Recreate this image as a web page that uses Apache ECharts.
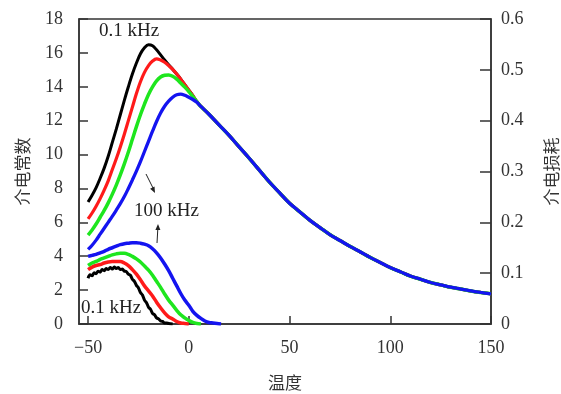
<!DOCTYPE html>
<html>
<head>
<meta charset="utf-8">
<script src="https://cdn.jsdelivr.net/npm/echarts@6/dist/echarts.min.js"></script>
<style>html,body{margin:0;padding:0;background:#fff}#c{width:561px;height:394px}</style>
</head>
<body>
<div id="c"></div>
<script>
// Temperature tick labels
const xTicks = [-50, 0, 50, 100, 150];

// Dielectric constant (left axis), [temperature, value]
const epsBlack = [[-50,7.2],[-48,7.6],[-46,8.05],[-44,8.6],[-42,9.2],[-40,9.9],[-38,10.7],[-36,11.5],[-34,12.35],[-32,13.2],[-30,14.0],[-28,14.75],[-26,15.4],[-24,15.95],[-22,16.3],[-20,16.48],[-18,16.42],[-16,16.18],[-14,15.88],[-12,15.58],[-10,15.3],[-8,15.03],[-6,14.75],[-4,14.45],[-2,14.12],[0,13.8],[2,13.48],[4,13.12]];
const epsRed = [[-50,6.2],[-48,6.55],[-46,6.95],[-44,7.4],[-42,7.9],[-40,8.45],[-38,9.1],[-36,9.75],[-34,10.45],[-32,11.2],[-30,12.0],[-28,12.8],[-26,13.6],[-24,14.3],[-22,14.85],[-20,15.25],[-18,15.52],[-16,15.65],[-14,15.58],[-12,15.45],[-10,15.25],[-8,15.03],[-6,14.75],[-4,14.45],[-2,14.12],[0,13.8],[2,13.48],[4,13.12]];
const epsGreen = [[-50,5.25],[-48,5.55],[-46,5.9],[-44,6.3],[-42,6.7],[-40,7.15],[-38,7.65],[-36,8.2],[-34,8.8],[-32,9.45],[-30,10.15],[-28,10.9],[-26,11.65],[-24,12.35],[-22,12.98],[-20,13.55],[-18,14.0],[-16,14.35],[-14,14.58],[-12,14.68],[-10,14.7],[-8,14.62],[-6,14.45],[-4,14.22],[-2,13.98],[0,13.72],[2,13.42],[4,13.12]];
const epsBlue = [[-50,4.4],[-48,4.65],[-46,4.95],[-44,5.3],[-42,5.65],[-40,6.0],[-38,6.35],[-36,6.72],[-34,7.1],[-32,7.52],[-30,8.0],[-28,8.5],[-26,9.02],[-24,9.58],[-22,10.18],[-20,10.78],[-18,11.38],[-16,11.95],[-14,12.45],[-12,12.85],[-10,13.15],[-8,13.38],[-6,13.53],[-4,13.57],[-2,13.5],[0,13.38],[2,13.25],[4,13.08]];
const epsTail = [[6,12.84],[10,12.38],[15,11.75],[20,11.13],[25,10.45],[30,9.78],[35,9.08],[40,8.38],[45,7.75],[50,7.13],[55,6.63],[60,6.13],[65,5.7],[70,5.28],[75,4.93],[80,4.58],[85,4.26],[90,3.93],[95,3.63],[100,3.33],[105,3.08],[110,2.83],[115,2.64],[120,2.45],[125,2.31],[130,2.17],[135,2.06],[140,1.95],[145,1.86],[150,1.78]];

// Dielectric loss (right axis), [temperature, value]
const lossBlack = [[-50,0.090],[-49,0.097],[-48,0.095],[-47,0.101],[-46,0.099],[-45,0.104],[-44,0.102],[-43,0.107],[-42,0.105],[-41,0.109],[-40,0.107],[-39,0.111],[-38,0.108],[-37,0.112],[-36,0.109],[-35,0.111],[-34,0.107],[-33,0.108],[-32,0.104],[-31,0.103],[-30,0.098],[-29,0.096],[-28,0.088],[-27,0.084],[-26,0.076],[-25,0.071],[-24,0.062],[-23,0.057],[-22,0.047],[-21,0.042],[-20,0.033],[-19,0.029],[-18,0.021],[-17,0.018],[-16,0.012],[-15,0.010],[-14,0.006],[-13,0.005],[-12,0.002],[-11,0.002],[-10,0.001],[-8,0]];
const lossRed = [[-50,0.107],[-48,0.112],[-46,0.115],[-44,0.117],[-42,0.120],[-40,0.122],[-38,0.123],[-36,0.123],[-34,0.123],[-32,0.120],[-30,0.115],[-28,0.107],[-26,0.098],[-24,0.087],[-22,0.075],[-20,0.065],[-18,0.055],[-16,0.043],[-14,0.032],[-12,0.022],[-10,0.014],[-8,0.010],[-6,0.005],[-4,0.002],[-2,0.001],[0,0]];
const lossGreen = [[-50,0.115],[-48,0.120],[-46,0.123],[-44,0.127],[-42,0.130],[-40,0.133],[-38,0.136],[-36,0.138],[-34,0.139],[-32,0.139],[-30,0.137],[-28,0.133],[-26,0.128],[-24,0.122],[-22,0.114],[-20,0.106],[-18,0.096],[-16,0.084],[-14,0.072],[-12,0.059],[-10,0.047],[-8,0.037],[-6,0.027],[-4,0.018],[-2,0.012],[0,0.007],[2,0.003],[4,0.001],[6,0]];
const lossBlue = [[-50,0.133],[-48,0.135],[-46,0.137],[-44,0.140],[-42,0.143],[-40,0.147],[-38,0.150],[-36,0.153],[-34,0.156],[-32,0.158],[-30,0.159],[-28,0.160],[-26,0.160],[-24,0.159],[-22,0.157],[-20,0.154],[-18,0.148],[-16,0.140],[-14,0.130],[-12,0.118],[-10,0.105],[-8,0.090],[-6,0.075],[-4,0.060],[-2,0.047],[0,0.037],[2,0.025],[4,0.017],[6,0.011],[8,0.006],[10,0.003],[12,0.002],[14,0.001],[16,0]];

const colors = {black:'#000000', red:'#ff1a1a', green:'#1ee61e', blue:'#1414f0'};
const FONT = '"Liberation Serif", "Times New Roman", serif';
const CJK = '"Noto Sans CJK SC", sans-serif';

const chart = echarts.init(document.getElementById('c'), null, {renderer:'canvas'});

function line(name, data, color, width, yIdx, z) {
  return {name, type:'line', data, yAxisIndex:yIdx, showSymbol:false, smooth:0.35,
          lineStyle:{color, width}, z, silent:true, animation:false};
}

chart.setOption({
  animation:false,
  backgroundColor:'#fff',
  grid:{left:79, right:70, top:19, bottom:70, outerBoundsMode:'none', containLabel:false,
        show:true, borderColor:'#333', borderWidth:1.5, backgroundColor:'transparent'},
  xAxis:{type:'value', min:-54.5, max:150,
    name:'温度', nameLocation:'middle', nameGap:50,
    nameTextStyle:{fontFamily:CJK, fontSize:17, color:'#333'},
    axisLine:{show:true, onZero:false, lineStyle:{color:'#333', width:1.5}},
    axisTick:{show:true, inside:true, length:8, customValues:xTicks, lineStyle:{color:'#333', width:1.5}},
    axisLabel:{customValues:xTicks, fontFamily:FONT, fontSize:18, color:'#333', margin:15,
      formatter:v=>String(v).replace('-','\u2212')},
    splitLine:{show:false}},
  yAxis:[
    {type:'value', min:0, max:18, interval:2, position:'left',
     name:'介电常数', nameLocation:'middle', nameGap:48, nameRotate:90,
     nameTextStyle:{fontFamily:CJK, fontSize:17, color:'#333'},
     axisLine:{show:true, onZero:false, lineStyle:{color:'#333', width:1.5}},
     axisTick:{show:true, inside:true, length:9, lineStyle:{color:'#333', width:1.5}},
     axisLabel:{fontFamily:FONT, fontSize:18, color:'#333', margin:16},
     splitLine:{show:false}},
    {type:'value', min:0, max:0.6, interval:0.1, position:'right',
     name:'介电损耗', nameLocation:'middle', nameGap:52, nameRotate:90,
     nameTextStyle:{fontFamily:CJK, fontSize:17, color:'#333'},
     axisLine:{show:true, onZero:false, lineStyle:{color:'#333', width:1.5}},
     axisTick:{show:true, inside:true, length:11, lineStyle:{color:'#333', width:1.5}},
     axisLabel:{fontFamily:FONT, fontSize:18, color:'#333', margin:10,
       formatter:v=>(Math.round(v*10)/10).toString()},
     splitLine:{show:false}}
  ],
  series:[
    line('eps0.1', epsBlack.concat(epsTail), colors.black, 3, 0, 2),
    line('eps1', epsRed.concat(epsTail), colors.red, 3.2, 0, 3),
    line('eps10', epsGreen.concat(epsTail), colors.green, 3.5, 0, 4),
    line('eps100', epsBlue.concat(epsTail), colors.blue, 3.3, 0, 5),
    line('loss0.1', lossBlack, colors.black, 3, 1, 2),
    line('loss1', lossRed, colors.red, 3.5, 1, 3),
    line('loss10', lossGreen, colors.green, 3.5, 1, 4),
    line('loss100', lossBlue, colors.blue, 3.5, 1, 5)
  ],
  graphic:[
    {type:'text', left:99, top:22, style:{text:'0.1 kHz', font:'19px ' + FONT, fill:'#222'}, z:20},
    {type:'text', left:134, top:202, style:{text:'100 kHz', font:'19px ' + FONT, fill:'#222'}, z:20},
    {type:'text', left:81, top:299, style:{text:'0.1 kHz', font:'19px ' + FONT, fill:'#222'}, z:20},
    {type:'line', shape:{x1:146, y1:174, x2:153, y2:188}, style:{stroke:'#222', lineWidth:1}, z:20},
    {type:'polygon', shape:{points:[[155,193],[154.5,186.5],[150.1,188.7]]}, style:{fill:'#222'}, z:20},
    {type:'line', shape:{x1:157, y1:243, x2:157.8, y2:229}, style:{stroke:'#222', lineWidth:1}, z:20},
    {type:'polygon', shape:{points:[[158,224],[155.4,230],[160.4,230]]}, style:{fill:'#222'}, z:20}
  ]
});
</script>
</body>
</html>
